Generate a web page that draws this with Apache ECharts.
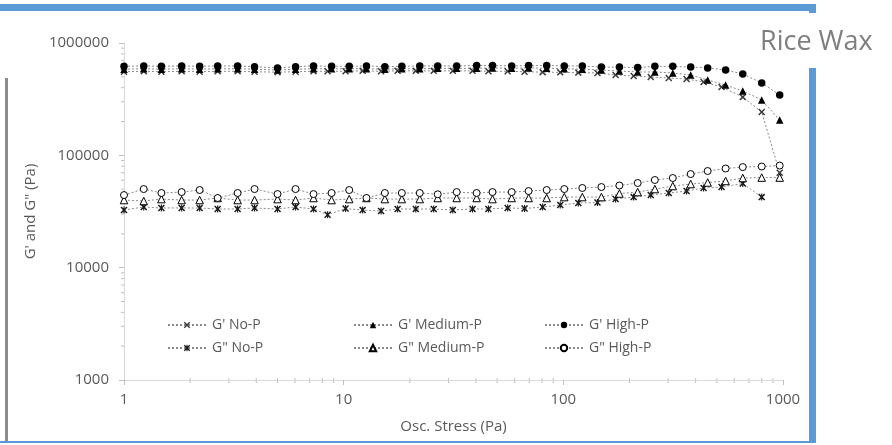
<!DOCTYPE html>
<html><head><meta charset="utf-8">
<script src="https://cdn.jsdelivr.net/npm/echarts@6/dist/echarts.min.js"></script>
<style>html,body{margin:0;padding:0;background:#fff}#c{width:892px;height:445px}</style>
</head><body><div id="c"></div>
<script>
// ---- data ----
const xTicks = [1, 10, 100, 1000];
const yTicks = [1000, 10000, 100000, 1000000];
const seriesNames = ["G' No-P", "G' Medium-P", "G' High-P", 'G" No-P', 'G" Medium-P', 'G" High-P'];

const xStress = [1.0, 1.23, 1.48, 1.83, 2.21, 2.67, 3.29, 3.93, 5.0, 6.04, 7.29, 8.81, 10.6, 12.7, 15.4, 18.4, 22.2, 26.8, 32.7, 40.3, 47.6, 58.2, 69.5, 84, 101, 122, 149, 180, 218, 261, 315, 380, 454, 548, 656, 800, 966];
const xStressNoP = [1.0, 1.23, 1.48, 1.83, 2.21, 2.67, 3.29, 3.93, 5.0, 6.04, 7.29, 8.45, 10.2, 12.2, 14.8, 17.6, 21.3, 25.7, 31.4, 38.6, 45.6, 55.8, 66.6, 80.5, 96.8, 117, 143, 173, 209, 250, 302, 364, 435, 525, 656, 800, 966];

const gpNoP = [555000, 560000, 555000, 560000, 555000, 560000, 560000, 555000, 550000, 555000, 560000, 560000, 560000, 565000, 560000, 565000, 565000, 565000, 565000, 565000, 560000, 560000, 555000, 550000, 548000, 545000, 541000, 519000, 508000, 498000, 488000, 478000, 450000, 406000, 330000, 243000, 70000];
const gpMed = [585000, 590000, 585000, 590000, 585000, 590000, 590000, 585000, 575000, 585000, 590000, 590000, 590000, 590000, 585000, 590000, 590000, 595000, 595000, 595000, 600000, 595000, 600000, 595000, 590000, 585000, 575000, 563000, 552000, 552000, 541000, 519000, 469000, 423000, 374000, 311000, 206000];
const gpHigh = [620000, 625000, 620000, 625000, 620000, 625000, 625000, 615000, 600000, 615000, 625000, 620000, 620000, 625000, 615000, 620000, 625000, 625000, 625000, 630000, 630000, 625000, 630000, 630000, 625000, 625000, 610000, 610000, 605000, 620000, 620000, 610000, 600000, 575000, 530000, 440000, 345000];
const gppNoP = [32600, 34700, 34000, 34000, 34000, 33300, 33300, 34000, 33300, 34700, 33300, 29600, 33600, 32600, 31900, 33300, 33300, 33300, 32600, 33300, 33300, 34000, 33600, 34700, 36100, 37600, 38000, 40800, 42500, 44300, 46200, 48100, 51200, 52200, 56100, 42500];
const gppMed = [40000, 39200, 40800, 40000, 40000, 41700, 40000, 40000, 40800, 40000, 41700, 40000, 40800, 41700, 40800, 40800, 40800, 41700, 41700, 41700, 40800, 41700, 41700, 41700, 42500, 42500, 42500, 45700, 47100, 50100, 53300, 55500, 57300, 59100, 62800, 63400, 63400];
const gppHigh = [44300, 50100, 46200, 47100, 49100, 41700, 46200, 50100, 45200, 50100, 45200, 46200, 49100, 41700, 46200, 46200, 46200, 45000, 47100, 46200, 47100, 47100, 48100, 49100, 50100, 51200, 52200, 53900, 56700, 60300, 62800, 68100, 72500, 76300, 78600, 79500, 81100];

// ---- chart ----
const FONT = 'Open Sans';
const GRAY = '#595959';
const pairs = (xs, ys) => ys.map((y, i) => [xs[i], y]);
const crossPath = 'path://M0,1.5L1.5,0L5,3.5L8.5,0L10,1.5L6.5,5L10,8.5L8.5,10L5,6.5L1.5,10L0,8.5L3.5,5Z';
const starPath = 'path://M0,1.5L1.5,0L5,3.5L8.5,0L10,1.5L6.5,5L10,8.5L8.5,10L5,6.5L1.5,10L0,8.5L3.5,5ZM4.2,0L5.8,0L5.8,10L4.2,10Z';

function mk(name, data, symbol, size, fill, border) {
  return {
    name, type: 'line', data, symbol, symbolSize: size, showSymbol: true,
    lineStyle: { color: '#8a8a8a', width: 1, type: [2, 2] },
    itemStyle: { color: fill, borderColor: border || fill, borderWidth: border ? 1 : 0 },
    emphasis: { disabled: true }, z: 2
  };
}

const chart = echarts.init(document.getElementById('c'), null, { renderer: 'canvas' });
const fmt = v => String(Math.round(v));
const legendCols = [167, 353, 544];
const legendRows = [318, 341];
const legends = seriesNames.map((n, i) => ({
  data: [n], left: legendCols[i % 3], top: legendRows[Math.floor(i / 3)],
  itemWidth: 38, itemHeight: 8, itemGap: 0, padding: 0,
  textStyle: { color: GRAY, fontSize: 14, fontFamily: FONT, padding: [0, 0, 0, 1] },
  selectedMode: false
}));
chart.setOption({
  animation: false,
  backgroundColor: '#fff',
  grid: { left: 124, right: 109, top: 43, bottom: 65 },
  xAxis: {
    type: 'log', logBase: 10, min: xTicks[0], max: xTicks[xTicks.length - 1],
    axisLine: { show: true, lineStyle: { color: '#d9d9d9' } },
    axisTick: { show: true, length: 5, lineStyle: { color: '#bfbfbf' } },
    splitLine: { show: false },
    axisLabel: { formatter: fmt, color: GRAY, fontSize: 15, fontFamily: FONT, margin: 12 },
    name: 'Osc. Stress (Pa)', nameLocation: 'middle', nameGap: 39,
    nameTextStyle: { color: GRAY, fontSize: 15, fontFamily: FONT }
  },
  yAxis: {
    type: 'log', logBase: 10, min: yTicks[0], max: yTicks[yTicks.length - 1],
    axisLine: { show: true, lineStyle: { color: '#d9d9d9' } },
    axisTick: { show: true, length: 5, lineStyle: { color: '#bfbfbf' } },
    splitLine: { show: false },
    axisLabel: { formatter: fmt, color: GRAY, fontSize: 15, fontFamily: FONT, margin: 15 },
    name: 'G\' and G" (Pa)', nameLocation: 'middle', nameGap: 84,
    nameTextStyle: { color: GRAY, fontSize: 15, fontFamily: FONT }
  },
  legend: legends,
  series: [
    mk(seriesNames[3], pairs(xStressNoP, gppNoP), starPath, 7, '#1a1a1a'),
    mk(seriesNames[4], pairs(xStress, gppMed), 'triangle', 7.5, '#ffffff', '#000000'),
    mk(seriesNames[5], pairs(xStress, gppHigh), 'circle', 7, '#ffffff', '#000000'),
    mk(seriesNames[0], pairs(xStressNoP, gpNoP), crossPath, 7, '#3a3a3a'),
    mk(seriesNames[1], pairs(xStress, gpMed), 'triangle', 7.5, '#000000'),
    mk(seriesNames[2], pairs(xStress, gpHigh), 'circle', 7.5, '#000000')
  ]
});

// minor ticks at 2..9 within each decade, positioned through the axes
const gfx = [];
const x0 = chart.convertToPixel({ xAxisIndex: 0 }, xTicks[0]);
const y0 = chart.convertToPixel({ yAxisIndex: 0 }, yTicks[0]);
for (let i = 0; i < xTicks.length - 1; i++) {
  for (let m = 2; m <= 9; m++) {
    const px = chart.convertToPixel({ xAxisIndex: 0 }, xTicks[i] * m);
    gfx.push({ type: 'line', shape: { x1: px, y1: y0 - 2, x2: px, y2: y0 + 3 }, style: { stroke: '#bfbfbf', lineWidth: 1 }, silent: true });
  }
}
for (let i = 0; i < yTicks.length - 1; i++) {
  for (let m = 2; m <= 9; m++) {
    const py = chart.convertToPixel({ yAxisIndex: 0 }, yTicks[i] * m);
    gfx.push({ type: 'line', shape: { x1: x0 - 3, y1: py, x2: x0, y2: py }, style: { stroke: '#bfbfbf', lineWidth: 1 }, silent: true });
  }
}
// frame decoration
const BLUE = '#5b9bd5';
gfx.push(
  { type: 'rect', shape: { x: 0, y: 4, width: 816, height: 7 }, style: { fill: BLUE }, silent: true },
  { type: 'rect', shape: { x: 809, y: 4, width: 7, height: 9 }, style: { fill: BLUE }, silent: true },
  { type: 'rect', shape: { x: 809, y: 68, width: 7, height: 375 }, style: { fill: BLUE }, silent: true },
  { type: 'rect', shape: { x: 0, y: 441, width: 816, height: 2 }, style: { fill: BLUE }, silent: true },
  { type: 'rect', shape: { x: 5, y: 78, width: 3, height: 363 }, style: { fill: '#8c8c8c' }, silent: true },
  { type: 'text', x: 760, y: 42, style: { text: 'Rice Wax', fill: '#7f7f7f', font: '27px "Open Sans"', textVerticalAlign: 'middle' }, silent: true }
);
chart.setOption({ graphic: gfx });
</script></body></html>
